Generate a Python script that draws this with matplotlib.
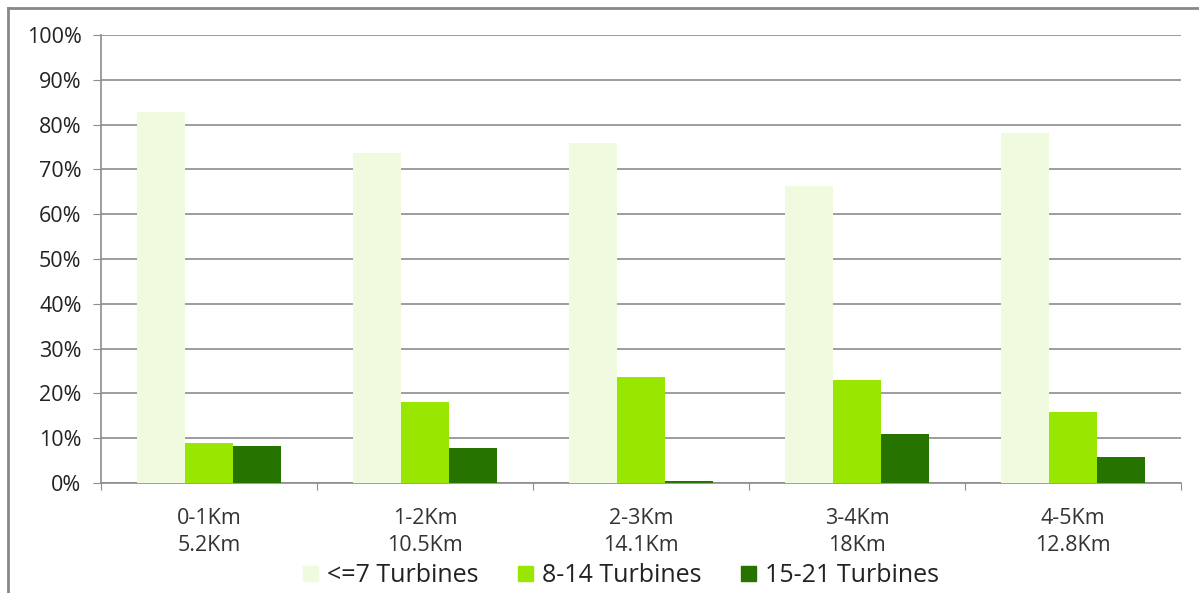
import numpy as np
import matplotlib.pyplot as plt
from matplotlib.lines import Line2D
from matplotlib.ticker import MultipleLocator, FuncFormatter

plt.rcParams['font.family'] = ['Open Sans', 'DejaVu Sans']

categories = ['0-1Km\n5.2Km', '1-2Km\n10.5Km', '2-3Km\n14.1Km', '3-4Km\n18Km', '4-5Km\n12.8Km']
series_names = ['<=7 Turbines', '8-14 Turbines', '15-21 Turbines']
small = [82.8, 73.7, 75.9, 66.3, 78.1]
medium = [8.9, 18.1, 23.7, 23.0, 15.8]
large = [8.3, 7.8, 0.4, 10.9, 5.8]
colors = ['#effade', '#99e600', '#267300']

fig = plt.figure(figsize=(11.99, 5.93), dpi=100)
ax = fig.add_axes([0.0842, 0.1855, 0.9008, 0.7555])

x = np.arange(len(categories))
w = 1 / 4.5
for i, (vals, c, name) in enumerate(zip([small, medium, large], colors, series_names)):
    ax.bar(x + (i - 1) * w, vals, width=w, color=c, label=name, zorder=3)

ax.set_xlim(-0.5, len(categories) - 0.5)
ax.set_ylim(0, 100)
ax.yaxis.set_major_locator(MultipleLocator(10))
ax.yaxis.set_major_formatter(FuncFormatter(lambda v, p: f'{v:.0f}%'))
ax.grid(axis='y', color='#8c8c8c', linewidth=1.2, zorder=0)

ax.set_xticks(np.arange(len(categories) + 1) - 0.5)
ax.set_xticklabels([])
ax.set_xticks(x, minor=True)
ax.set_xticklabels(categories, minor=True, fontsize=15.5, color='#333333', linespacing=1.4)
ax.tick_params(axis='x', which='minor', length=0, pad=18)
ax.tick_params(axis='x', which='major', length=5, color='#8c8c8c', direction='out')
ax.tick_params(axis='y', length=6, color='#8c8c8c', labelsize=15.5, labelcolor='#222222', pad=8)

for s in ['top', 'right']:
    ax.spines[s].set_visible(False)
for s in ['left', 'bottom']:
    ax.spines[s].set_color('#8c8c8c')
    ax.spines[s].set_linewidth(1.2)

handles = [plt.Rectangle((0, 0), 1, 1, color=c) for c in colors]
fig.legend(handles, series_names, loc='center', bbox_to_anchor=(0.518, 0.029), ncol=3,
           frameon=False, fontsize=18, handlelength=0.6, handleheight=0.6,
           handletextpad=0.35, columnspacing=1.6, labelcolor='#222222')

# outer frame (left and top edges visible)
fig.add_artist(Line2D([0.0067, 0.0067], [0, 0.9865], transform=fig.transFigure, color='#888888', lw=2))
fig.add_artist(Line2D([0.0067, 1.0], [0.9865, 0.9865], transform=fig.transFigure, color='#888888', lw=2))

fig.savefig('out.png', dpi=100)
